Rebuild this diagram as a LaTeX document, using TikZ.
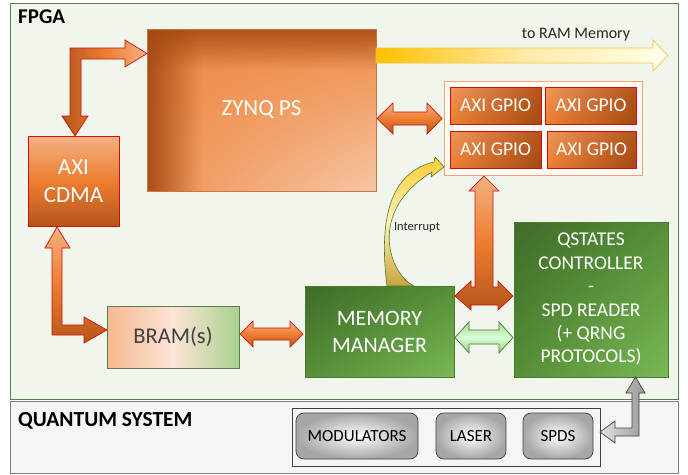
\documentclass[tikz,border=0pt]{standalone}
\usepackage{fontspec}
\setmainfont{Carlito}
\usetikzlibrary{shadings}
\definecolor{fpgabg}{HTML}{F1F6EC}
\definecolor{fpgaln}{HTML}{5A7F45}
\definecolor{qbg}{HTML}{F5F5F5}
\definecolor{qln}{HTML}{7F7F7F}
\definecolor{olight}{HTML}{F4B183}
\definecolor{omid}{HTML}{ED7D31}
\definecolor{zmid}{HTML}{EE8A45}
\definecolor{zlight}{HTML}{F6C6A5}
\definecolor{odark}{HTML}{B5561A}
\definecolor{obrown}{HTML}{A34912}
\definecolor{ored}{HTML}{D01010}
\definecolor{gdark}{HTML}{3F6B28}
\definecolor{gmid}{HTML}{568F37}
\definecolor{glight}{HTML}{79B955}
\definecolor{gline}{HTML}{4A7A30}
\definecolor{bramgreen}{HTML}{A9D18E}
\definecolor{brampale}{HTML}{FCE4D6}
\definecolor{ylw}{HTML}{FFC000}
\definecolor{ylwline}{HTML}{F5C242}
\definecolor{inttop}{HTML}{FFCC33}
\definecolor{intmid}{HTML}{FFF0B8}
\definecolor{intbot}{HTML}{C9A43A}
\definecolor{txtdark}{HTML}{262626}
\begin{document}
\begin{tikzpicture}[x=1pt,y=-1pt,
  box/.style={inner sep=0pt, outer sep=0pt, align=center, text=white},
  oarrow/.style={draw=ored, line width=0.7pt, line join=miter},
  qitem/.style={box, draw=black!75, line width=0.7pt, rounded corners=8pt,
    inner color=white, outer color=black!35, text=black,
    font=\fontsize{17}{20}\selectfont, minimum height=46pt},
  gpiobox/.style={box, draw=ored, line width=0.7pt, minimum width=91pt, minimum height=37pt,
    upper left=omid!80!white, upper right=odark, lower left=omid, lower right=obrown,
    font=\fontsize{19.5}{22}\selectfont},
  greenbox/.style={box, draw=gline, line width=0.5pt,
    upper left=gdark, upper right=gmid, lower left=gmid, lower right=glight}
]
\useasboundingbox (0,0) rectangle (688,474);

% frames
\node[box, draw=fpgaln, fill=fpgabg, line width=0.8pt, minimum width=668pt, minimum height=396pt] (fpga) at (344,201) {};
\node[box, draw=qln, fill=qbg, line width=0.8pt, minimum width=668pt, minimum height=72pt] (quant) at (344,437) {};
\node[anchor=west, inner sep=0pt, font=\bfseries\fontsize{21}{24}\selectfont] (fpgalbl) at (18,17) {FPGA};
\node[anchor=west, inner sep=0pt, font=\bfseries\fontsize{21.5}{24}\selectfont] (qlbl) at (18,421) {QUANTUM SYSTEM};

% ZYNQ PS
\node[box, minimum width=229pt, minimum height=162pt,
  upper left=zmid, upper right=zmid, lower left=zmid!85!zlight, lower right=zlight] (zynq) at (261.5,110) {};
\foreach \i in {0,...,26} {
  \fill[obrown, opacity={0.92*(1-\i/27)}] (147+2*\i,29) rectangle (149.2+2*\i,191);
}
\foreach \i in {0,...,19} {
  \fill[obrown, opacity={0.85*(1-\i/20)}] (147,29+2*\i) rectangle (376,31.2+2*\i);
}
\draw[odark!80!white, line width=0.5pt] (zynq.north west) rectangle (zynq.south east);
\node[text=white, font=\fontsize{23}{26}\selectfont] (zynqt) at (zynq.center) {ZYNQ PS};

% AXI CDMA
\node[box, draw=ored, line width=0.8pt, minimum width=91pt, minimum height=90pt,
  top color=olight, bottom color=odark, middle color=omid,
  font=\fontsize{23}{28}\selectfont] (cdma) at (73.5,181) {AXI\\CDMA};

% GPIO group
\node[box, draw=omid!70!white, fill=white!97!orange, line width=1pt, minimum width=198pt, minimum height=94pt] (gpio) at (543,128) {};
\node[gpiobox] (g1) at (495.5,105.5) {AXI GPIO};
\node[gpiobox] (g2) at (591,105.5) {AXI GPIO};
\node[gpiobox] (g3) at (495.5,149.5) {AXI GPIO};
\node[gpiobox, minimum width=89pt] (g4) at (591.5,149.5) {AXI GPIO};

% BRAM
\node[box, draw=gline!60!gray, line width=0.6pt, minimum width=132pt, minimum height=62pt,
  left color=olight!90!white, right color=bramgreen, middle color=brampale,
  text=black!75, font=\fontsize{22.5}{26}\selectfont] (bram) at (173,337) {BRAM(s)};

% Memory manager
\node[greenbox, minimum width=149pt, minimum height=91pt, font=\fontsize{22}{27}\selectfont] (mm) at (379.5,331.5) {MEMORY\\MANAGER};

% QSTATES
\node[greenbox, minimum width=154pt, minimum height=155pt, font=\fontsize{19.5}{23.4}\selectfont] (qs) at (591,299.5)
  {QSTATES\\CONTROLLER\\-\\SPD READER\\(+ QRNG\\PROTOCOLS)};

% quantum items
\node[box, draw=black!75, line width=0.8pt, minimum width=308pt, minimum height=58pt] (qgroup) at (446,437) {};
\node[qitem, minimum width=122pt] (mod) at (357,436) {MODULATORS};
\node[qitem, minimum width=70pt] (laser) at (471,436) {LASER};
\node[qitem, minimum width=70pt] (spds) at (558,436) {SPDS};

% ---- block arrows ----
% ZYNQ <-> CDMA elbow
\shade[oarrow, left color=odark, right color=olight, middle color=omid]
  (75,136) -- (62,116) -- (70,116) -- (70,48) -- (125,48) -- (125,40) -- (147,53.5)
  -- (125,67) -- (125,59) -- (81,59) -- (81,116) -- (88,116) -- cycle;
% CDMA <-> BRAM elbow
\shade[oarrow, top color=olight, bottom color=odark, middle color=omid]
  (57,227) -- (45,248) -- (52,248) -- (52,335) -- (84,335) -- (84,343) -- (107,330)
  -- (84,317) -- (84,325) -- (62,325) -- (62,248) -- (70,248) -- cycle;
% BRAM <-> MM
\shade[oarrow, top color=olight, bottom color=odark!90!omid, middle color=omid]
  (240,334) -- (253,321) -- (253,328) -- (290,328) -- (290,321) -- (303,334)
  -- (290,347) -- (290,340) -- (253,340) -- (253,347) -- cycle;
% ZYNQ <-> GPIO
\shade[oarrow, top color=olight, bottom color=odark, middle color=omid]
  (377,118.5) -- (393,103) -- (393,112) -- (427,112) -- (427,103) -- (442,118.5)
  -- (427,134) -- (427,125) -- (393,125) -- (393,134) -- cycle;
% to RAM
\shade[draw=ylwline, line width=0.7pt, left color=ylw, right color=white!92!yellow, middle color=ylw!35!white]
  (376,48) -- (653,48) -- (653,40) -- (668,55.5) -- (653,71) -- (653,63) -- (376,63) -- cycle;
\node[text=txtdark, font=\fontsize{16}{18}\selectfont] (ramlbl) at (576,35) {to RAM Memory};
% T arrow GPIO / MM / QS
\shade[oarrow, top color=olight, bottom color=odark, middle color=omid]
  (484,176) -- (499,191) -- (493,191) -- (493,287) -- (498,287) -- (498,281) -- (513,296)
  -- (498,310) -- (498,305) -- (471,305) -- (471,310) -- (455,296) -- (471,281)
  -- (471,287) -- (475,287) -- (475,191) -- (469,191) -- cycle;
% green MM <-> QS
\shade[draw=gline, line width=0.7pt, top color=bramgreen, bottom color=glight!75!white, middle color=white!85!green]
  (455,337.5) -- (469,322) -- (469,330) -- (499,330) -- (499,322) -- (513,337.5)
  -- (499,353) -- (499,344) -- (469,344) -- (469,353) -- cycle;
% gray QS <-> SPDS
\shade[draw=black!75, line width=0.7pt, left color=black!12, right color=black!40]
  (635.5,377) -- (645,393) -- (639,393) -- (639,436) -- (615,436) -- (615,443) -- (600,432)
  -- (615,421) -- (615,428) -- (632,428) -- (632,393) -- (626,393) -- cycle;
% interrupt
\shade[draw=gline, line width=0.6pt, top color=inttop, bottom color=intbot, middle color=intmid]
  (414,286) .. controls (390,275) and (366,212) .. (432,172) -- (431,177) -- (444,167)
  -- (435,157) -- (434,162) .. controls (392,172) and (378,215) .. (387,286) -- cycle;
\node[text=txtdark, font=\fontsize{12.5}{14}\selectfont] (intlbl) at (417,227) {Interrupt};
\end{tikzpicture}
\end{document}
